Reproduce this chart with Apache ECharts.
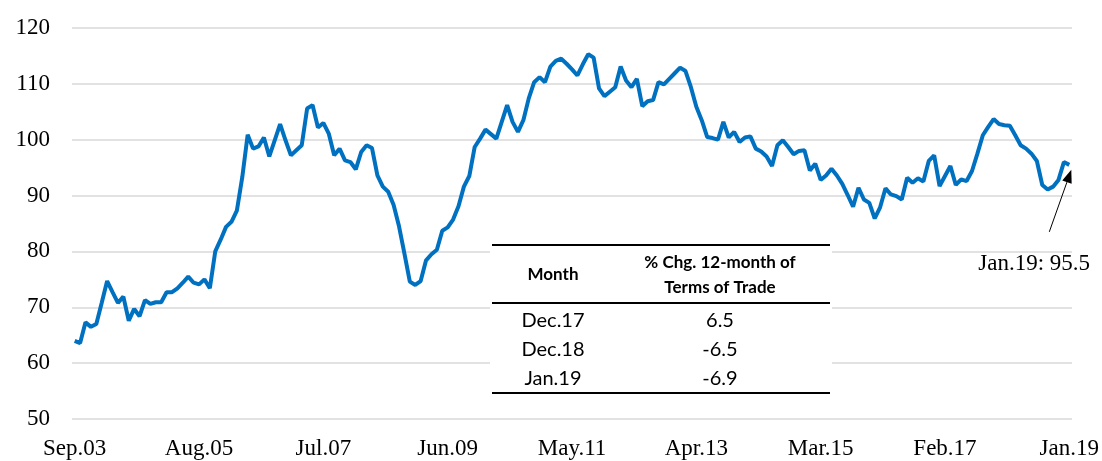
<!DOCTYPE html>
<html>
<head>
<meta charset="utf-8">
<script src="https://cdn.jsdelivr.net/npm/echarts@6/dist/echarts.min.js"></script>
<style>
    html, body { margin: 0; padding: 0; background: #fff; }
    #chart { width: 1102px; height: 461px; }
</style>
</head>
<body>
<div id="chart"></div>
<script>
//Terms of trade index, monthly from Sep.03 to Jan.19
var monthNames = ['Jan', 'Feb', 'Mar', 'Apr', 'May', 'Jun', 'Jul', 'Aug', 'Sep', 'Oct', 'Nov', 'Dec'];
var startYear = 2003, startMonth = 8;   //Sep
var totIndex = [
    64.0, 63.6, 67.3, 66.5, 67.0, 70.8, 74.7, 72.7, 70.8, 71.9,
    67.6, 69.7, 68.4, 71.3, 70.6, 70.9, 70.9, 72.7, 72.7, 73.4,
    74.4, 75.5, 74.4, 74.1, 75.0, 73.4, 80.0, 82.1, 84.4, 85.3,
    87.3, 93.3, 100.9, 98.4, 98.8, 100.4, 97.0, 99.9, 102.8, 99.9,
    97.2, 98.1, 99.0, 105.6, 106.2, 102.2, 103.0, 101.1, 97.2, 98.4,
    96.3, 96.0, 94.7, 97.8, 99.0, 98.5, 93.6, 91.6, 90.7, 88.3,
    84.5, 79.6, 74.6, 74.0, 74.7, 78.4, 79.5, 80.3, 83.7, 84.3,
    85.7, 88.1, 91.6, 93.5, 98.7, 100.2, 101.8, 101.0, 100.2, 103.2,
    106.2, 103.2, 101.4, 103.5, 107.4, 110.3, 111.2, 110.3, 113.1, 114.1,
    114.5, 113.6, 112.6, 111.5, 113.5, 115.3, 114.7, 109.2, 107.8, 108.6,
    109.4, 113.1, 110.6, 109.4, 110.9, 106.0, 106.9, 107.1, 110.3, 109.9,
    110.9, 111.9, 112.9, 112.3, 109.4, 105.9, 103.5, 100.5, 100.3, 100.0,
    103.2, 100.4, 101.4, 99.6, 100.4, 100.6, 98.4, 97.9, 97.0, 95.3,
    99.0, 99.9, 98.7, 97.4, 98.0, 98.1, 94.5, 95.7, 92.8, 93.6,
    94.8, 93.6, 92.1, 90.1, 88.0, 91.4, 89.3, 88.7, 85.9, 87.9,
    91.3, 90.2, 89.9, 89.3, 93.2, 92.3, 93.1, 92.5, 96.2, 97.2,
    91.7, 93.5, 95.3, 91.9, 92.9, 92.6, 94.4, 97.5, 100.8, 102.3,
    103.7, 102.8, 102.6, 102.5, 100.8, 99.0, 98.4, 97.5, 96.2, 91.9,
    91.1, 91.6, 92.8, 96.0, 95.5
];
//y axis ticks
var yMin = 50, yMax = 120, yStep = 10;
//table inside the chart
var tableHead = ['Month', '% Chg. 12-month of\nTerms of Trade'];
var tableMonths = ['Dec.17', 'Dec.18', 'Jan.19'];
var tableChg = ['6.5', '-6.5', '-6.9'];

//category labels Sep.03 ... Jan.19
var categories = [];
for (var i = 0; i < totIndex.length; i++) {
    var m = (startMonth + i) % 12;
    var y = startYear + Math.floor((startMonth + i) / 12);
    categories.push(monthNames[m] + '.' + String(y).slice(2));
}

var serif = '"Liberation Serif", "DejaVu Serif", serif';
var sans = 'Lato, "Open Sans", sans-serif';

var myChart = echarts.init(document.getElementById('chart'));
var option = {
    animation: false,
    grid: { left: 72, right: 29, top: 28, bottom: 42 },
    xAxis: {
        type: 'category',
        data: categories,
        boundaryGap: true,
        axisLine: { show: false },
        axisTick: { show: false },
        axisLabel: { interval: 22, margin: 18, color: '#000', fontFamily: serif, fontSize: 23 }
    },
    yAxis: {
        type: 'value',
        min: yMin, max: yMax, interval: yStep,
        axisLabel: { margin: 22, color: '#000', fontFamily: serif, fontSize: 23 },
        splitLine: { lineStyle: { color: '#d9d9d9', width: 1.5 } }
    },
    series: [{
        type: 'line',
        data: totIndex,
        symbol: 'none',
        lineStyle: { color: '#0070c0', width: 4 },
        itemStyle: { color: '#0070c0' }
    }]
};
myChart.setOption(option);

//table and annotation
var g = [];
var tx0 = 492, tx1 = 830, col1 = 553, col2 = 720;
g.push({ type: 'rect', z: 100, shape: { x: tx0 - 2, y: 238, width: tx1 - tx0 + 4, height: 160 }, style: { fill: '#fff' } });
[245, 303, 393].forEach(function (ly) {
    g.push({ type: 'line', z: 101, shape: { x1: tx0, y1: ly, x2: tx1, y2: ly }, style: { stroke: '#000', lineWidth: 2 } });
});
g.push({ type: 'text', z: 101, style: { text: tableHead[0], x: col1, y: 275, textAlign: 'center', textVerticalAlign: 'middle', font: 'bold 17px ' + sans, fill: '#000' } });
g.push({ type: 'text', z: 101, style: { text: tableHead[1], x: col2, y: 275, textAlign: 'center', textVerticalAlign: 'middle', font: 'bold 17px ' + sans, lineHeight: 25, fill: '#000' } });
for (var r = 0; r < tableMonths.length; r++) {
    var ry = 321 + r * 29;
    g.push({ type: 'text', z: 101, style: { text: tableMonths[r], x: col1, y: ry, textAlign: 'center', textVerticalAlign: 'middle', font: '20px ' + sans, fill: '#000' } });
    g.push({ type: 'text', z: 101, style: { text: tableChg[r], x: col2, y: ry, textAlign: 'center', textVerticalAlign: 'middle', font: '20px ' + sans, fill: '#000' } });
}

//arrow to the last point
var last = totIndex.length - 1;
var p = myChart.convertToPixel({ seriesIndex: 0 }, [last, totIndex[last]]);
var tip = [p[0] + 2, p[1] + 5], tail = [p[0] - 20, p[1] + 67];
var dx = tip[0] - tail[0], dy = tip[1] - tail[1];
var len = Math.sqrt(dx * dx + dy * dy);
var ux = dx / len, uy = dy / len;
var base = [tip[0] - ux * 13, tip[1] - uy * 13];
g.push({ type: 'line', z: 101, shape: { x1: tail[0], y1: tail[1], x2: base[0], y2: base[1] }, style: { stroke: '#000', lineWidth: 1 } });
g.push({ type: 'polygon', z: 101, shape: { points: [tip, [base[0] - uy * 5, base[1] + ux * 5], [base[0] + uy * 5, base[1] - ux * 5]] }, style: { fill: '#000' } });
g.push({ type: 'text', z: 101, style: { text: categories[last] + ': ' + totIndex[last].toFixed(1), x: p[0] - 91, y: p[1] + 99, textAlign: 'left', textVerticalAlign: 'middle', font: '23px ' + serif, fill: '#000' } });

myChart.setOption({ graphic: g });
</script>
</body>
</html>
